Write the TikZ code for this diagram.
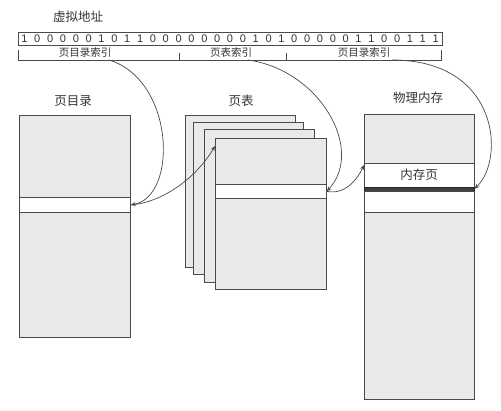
\documentclass[tikz,border=0pt]{standalone}
\usepackage{fontspec}
\setmainfont{Liberation Sans}
\newfontfamily\cjk{Noto Sans CJK SC}
\usetikzlibrary{arrows.meta}
\definecolor{boxfill}{HTML}{E9E9E9}
\definecolor{edge}{HTML}{4A4A4A}
\definecolor{ink}{HTML}{333333}
\begin{document}
\begin{tikzpicture}[x=1pt,y=-1pt,
  titlelbl/.style={font=\cjk\fontsize{12.5}{14}\selectfont, text=ink, inner sep=0pt},
  idxlbl/.style={font=\cjk\fontsize{10.5}{12}\selectfont, text=ink, inner sep=0pt},
  bit/.style={font=\fontsize{11}{12}\selectfont, text=ink, inner sep=0pt},
  memblock/.style={draw=edge, fill=boxfill, line width=0.8pt, inner sep=0pt, anchor=north west},
  entrybox/.style={draw=edge, fill=white, line width=0.7pt, inner sep=0pt, anchor=north west},
  bracketline/.style={draw=edge, line width=0.6pt},
  link/.style={draw=edge, line width=0.7pt, -{Stealth[length=5pt,width=4pt]}}]
\useasboundingbox (0,0) rectangle (501,410);

% virtual address
\node[titlelbl] (vaddr) at (78,17) {虚拟地址};
\node[draw=edge, line width=0.7pt, fill=white, minimum width=424pt, minimum height=13pt, inner sep=0pt, anchor=north west] (addr) at (18,32) {};
\foreach \b [count=\i from 0] in {1,0,0,0,0,0,1,0,1,1,0,0,0,0,0,0,0,0,1,0,1,0,0,0,0,0,1,1,0,0,1,1,1}
  \node[bit] (b\i) at ({18+12.85*(\i+0.5)},38.5) {\b};

% bracket
\draw[bracketline] (18,50) -- (18,60) -- (441,60) -- (441,50);
\draw[bracketline] (179,53) -- (179,60);
\draw[bracketline] (286,53) -- (286,60);
\node[idxlbl] (pdidx) at (85,52.5) {页目录索引};
\node[idxlbl] (ptidx) at (231,52.5) {页表索引};
\node[idxlbl] (offidx) at (364,52.5) {页目录索引};
\coordinate (c1) at (109,60);
\coordinate (c2) at (248,60);
\coordinate (c3) at (392,60);

% page directory
\node[titlelbl] (pdt) at (73,101) {页目录};
\node[memblock, minimum width=111pt, minimum height=222pt] (pd) at (19,115) {};
\node[entrybox, minimum width=111pt, minimum height=15pt] (pde) at (19,197) {};

% page tables
\node[titlelbl] (ptt) at (241,101) {页表};
\node[memblock, minimum width=110pt, minimum height=152pt] (pt1) at (185,115) {};
\node[memblock, minimum width=110pt, minimum height=152pt] (pt2) at (193,122) {};
\node[memblock, minimum width=110pt, minimum height=153pt] (pt3) at (204,129) {};
\node[memblock, minimum width=111pt, minimum height=151pt] (pt4) at (215,138) {};
\node[entrybox, minimum width=111pt, minimum height=14pt] (pte) at (215,184) {};

% physical memory
\node[titlelbl] (pmt) at (418,98) {物理内存};
\node[memblock, minimum width=110pt, minimum height=285pt] (pm) at (364,114) {};
\node[entrybox, minimum width=110pt, minimum height=23.5pt] (page) at (364,163) {};
\node[draw=black!85, fill=black!75, line width=0.5pt, inner sep=0pt, anchor=north west, minimum width=110pt, minimum height=4pt] (band) at (364,186.5) {};
\node[entrybox, minimum width=110pt, minimum height=21.5pt] (pme) at (364,190.5) {};
\node[titlelbl] (pagelbl) at (419,175) {内存页};

% connectors
\draw[link] (c1) .. controls (175,80) and (178,197) .. (pde.east);
\draw[link] (pde.east) .. controls (160,203) and (195,180) .. ([yshift=-8pt]pt4.north west);
\draw[link] (c2) .. controls (320,70) and (365,150) .. (pte.east);
\draw[link] (pte.east) .. controls (345,195) and (357,180) .. ([yshift=-2pt]page.north west);
\draw[link] (c3) .. controls (500,60) and (505,160) .. (band.east);
\end{tikzpicture}
\end{document}
